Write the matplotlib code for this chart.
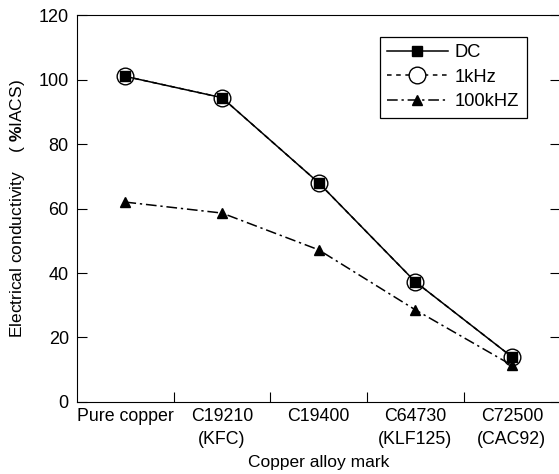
import matplotlib
matplotlib.use("Agg")
import matplotlib.pyplot as plt
from matplotlib.ticker import FixedLocator

plt.rcParams['font.family'] = ['Liberation Sans', 'DejaVu Sans']
plt.rcParams['mathtext.fontset'] = 'custom'
plt.rcParams['mathtext.rm'] = 'Liberation Sans'
plt.rcParams['mathtext.bf'] = 'Liberation Sans:bold'

# data
alloys = ['Pure copper', 'C19210\n(KFC)', 'C19400', 'C64730\n(KLF125)', 'C72500\n(CAC92)']
dc = [101, 94.4, 68, 37.3, 14]
khz1 = [101, 94.4, 68, 37.3, 14]
khz100 = [62, 58.6, 47.2, 28.6, 11.4]

fig = plt.figure(figsize=(5.59, 4.74), dpi=100)
ax = fig.add_axes([0.138, 0.152, 0.864, 0.816])

x = range(len(alloys))
ax.plot(x, khz1, linestyle=(0, (3, 3)), color='black', lw=1.1, marker='o',
        markersize=12, markerfacecolor='white', markeredgecolor='black',
        markeredgewidth=1.0, label='1kHz', zorder=2)
ax.plot(x, dc, linestyle='-', color='black', lw=1.1, marker='s',
        markersize=7, label='DC', zorder=3)
ax.plot(x, khz100, linestyle=(0, (7, 2.5, 1.5, 2.5)), color='black', lw=1.1,
        marker='^', markersize=7, label='100kHZ', zorder=3)

ax.set_xlim(-0.5, len(alloys) - 0.5)
ax.set_ylim(0, 120)
ax.set_yticks(range(0, 121, 20))
ax.set_xticks(list(x))
ax.set_xticklabels(alloys, fontsize=12.8, linespacing=1.5)
ax.xaxis.set_minor_locator(FixedLocator([0.5, 1.5, 2.5, 3.5]))
ax.tick_params(axis='x', which='major', length=0, pad=4)
ax.tick_params(axis='x', which='minor', direction='in', length=7, width=0.8)
ax.tick_params(axis='y', direction='in', length=7, width=0.8, labelsize=13,
               right=True, pad=6)

for s in ax.spines.values():
    s.set_linewidth(0.8)

ax.set_xlabel('Copper alloy mark', fontsize=12.5, labelpad=5)
ax.set_ylabel(r'Electrical conductivity    ( $\mathbf{\%}$IACS)', fontsize=12.5, labelpad=8)

h, l = ax.get_legend_handles_labels()
order = [1, 0, 2]
leg = ax.legend([h[i] for i in order], [l[i] for i in order],
                loc='upper right', bbox_to_anchor=(0.95, 0.968),
                fontsize=13.2, handlelength=3.3, handletextpad=0.4,
                borderpad=0.4, labelspacing=0.42, fancybox=False,
                edgecolor='black', framealpha=1)
leg.get_frame().set_linewidth(0.9)

fig.savefig('out.png', dpi=100)
